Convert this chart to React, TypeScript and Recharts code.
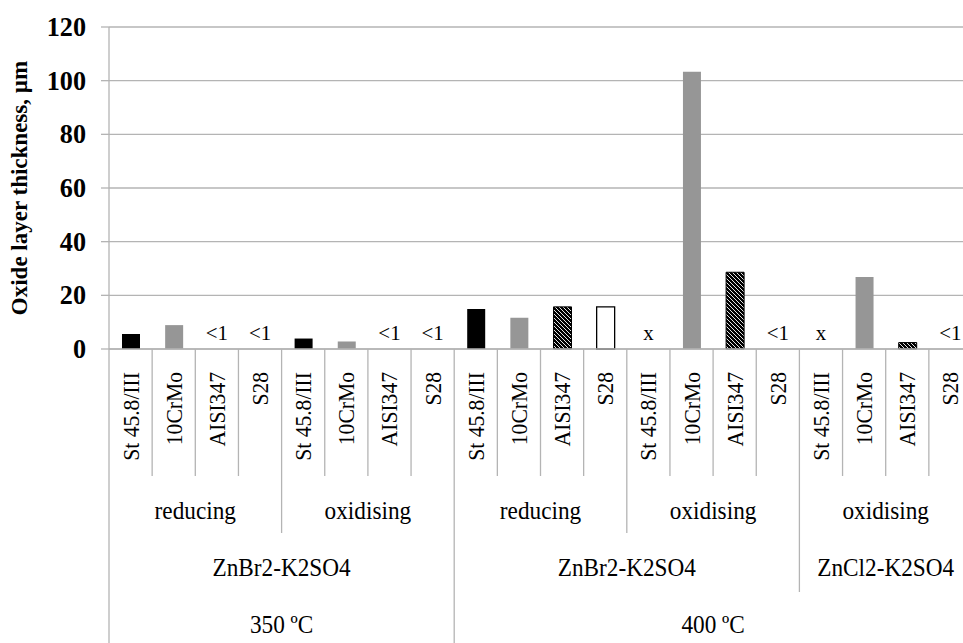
import { ComposedChart, Bar, Scatter, XAxis, YAxis, CartesianGrid, Cell } from "recharts";

// alloys tested in every exposure group
const alloys = ["St 45.8/III", "10CrMo", "AISI347", "S28"];
const conditions = ["reducing", "oxidising", "reducing", "oxidising", "oxidising"];
const conditionSpans = [4, 4, 4, 4, 4];
const salts = ["ZnBr2-K2SO4", "ZnBr2-K2SO4", "ZnCl2-K2SO4"];
const saltSpans = [8, 8, 4];
const temperatures = ["350 ºC", "400 ºC"];
const temperatureSpans = [8, 12];

// oxide layer thickness in µm (null = not tested)
const thickness = [
  5.6, 8.9, 0, 0,
  3.9, 2.8, 0, 0,
  14.9, 11.6, 15.7, 15.7,
  null, 103.3, 28.6, 0,
  null, 26.8, 2.4, 0,
];
const notes = [
  "", "", "<1", "<1",
  "", "", "<1", "<1",
  "", "", "", "",
  "x", "", "", "<1",
  "x", "", "", "<1",
];
const yTicks = [0, 20, 40, 60, 80, 100, 120];

const data = thickness.map((v, i) => ({
  id: i,
  alloy: alloys[i % alloys.length],
  thickness: v,
  note: notes[i],
  // notes sit on the zero line
  noteAt: notes[i] ? 0 : null,
}));

const W = 972;
const H = 643;
const TOP = 27;
const Y_W = 109;
const X_H = 294;
const PLOT_BOTTOM = H - X_H;
const STEP = (W - Y_W) / data.length;
const FONT = "'Liberation Serif', 'Times New Roman', serif";
const GRID = "#b4b4b4";

// where each tier's separators stop
const tierBottom = [476, 533, 592, H];

const starts = (spans: number[]) => {
  const out: number[] = [];
  let s = 0;
  spans.forEach((n) => {
    out.push(s);
    s += n;
  });
  out.push(s);
  return out;
};
const condStarts = starts(conditionSpans);
const saltStarts = starts(saltSpans);
const tempStarts = starts(temperatureSpans);

const boundaryDepth = (b: number) => {
  if (tempStarts.includes(b)) return tierBottom[3];
  if (saltStarts.includes(b)) return tierBottom[2];
  if (condStarts.includes(b)) return tierBottom[1];
  return tierBottom[0];
};

// Times-like text, slightly narrowed along its own direction
const NarrowText = ({ x, y, rotate = 0, size, squeeze = 0.93, anchor = "middle", bold = false, children }: any) => (
  <text
    transform={`translate(${x},${y}) rotate(${rotate}) scale(${squeeze},1)`}
    textAnchor={anchor}
    fontFamily={FONT}
    fontSize={size}
    fontWeight={bold ? "bold" : "normal"}
    fill="#000"
  >
    {children}
  </text>
);

const groupLabel = (
  names: string[],
  spans: number[],
  first: number[],
  i: number,
  left: number,
  y: number
) => {
  const g = first.indexOf(i);
  if (g < 0 || g >= names.length) return null;
  return (
    <NarrowText x={left + (spans[g] * STEP) / 2} y={y} size={24.5} squeeze={0.95}>
      {names[g]}
    </NarrowText>
  );
};

const CategoryTick = (props: any) => {
  const { x, payload } = props;
  const i = Number(payload.value);
  const left = x - STEP / 2;
  const right = x + STEP / 2;
  return (
    <g>
      <line x1={left} y1={PLOT_BOTTOM} x2={left} y2={boundaryDepth(i)} stroke={GRID} strokeWidth={1.3} />
      {i === data.length - 1 && (
        <line x1={right} y1={PLOT_BOTTOM} x2={right} y2={boundaryDepth(i + 1)} stroke={GRID} strokeWidth={1.3} />
      )}
      <NarrowText x={x + 8} y={372} rotate={-90} size={24} squeeze={0.9} anchor="end">
        {alloys[i % alloys.length]}
      </NarrowText>
      {groupLabel(conditions, conditionSpans, condStarts, i, left, 519)}
      {groupLabel(salts, saltSpans, saltStarts, i, left, 576)}
      {groupLabel(temperatures, temperatureSpans, tempStarts, i, left, 633)}
    </g>
  );
};

const ValueTick = (props: any) => {
  const { x, y, payload } = props;
  return (
    <NarrowText x={x} y={y + 9} size={27} squeeze={0.97} anchor="end" bold>
      {payload.value}
    </NarrowText>
  );
};

const NoteMark = (props: any) => {
  const { cx, cy, payload } = props;
  if (!payload || !payload.note || !Number.isFinite(cy)) return null;
  return (
    <NarrowText x={cx} y={cy - 9} size={22} squeeze={0.95}>
      {payload.note}
    </NarrowText>
  );
};

const barStyle = (i: number) => {
  switch (i % 4) {
    case 0:
      return { fill: "#000000" };
    case 1:
      return { fill: "#969696" };
    case 2:
      return { fill: "url(#hatch)", stroke: "#000", strokeWidth: 1 };
    default:
      return { fill: "#ffffff", stroke: "#000", strokeWidth: 1.3 };
  }
};

export default function App() {
  return (
    <div
      style={{
        position: "fixed",
        left: 0,
        top: 0,
        width: 963,
        height: 643,
        overflow: "hidden",
        background: "#fff",
      }}
    >
      <ComposedChart
        width={W}
        height={H}
        data={data}
        margin={{ top: TOP, right: 0, bottom: 0, left: 0 }}
        barSize={18}
      >
        <defs>
          <pattern id="hatch" patternUnits="userSpaceOnUse" width={4} height={4}>
            <rect width={4} height={4} fill="#000" />
            <path d="M-1,-1 L5,5 M-1,3 L1,5 M3,-1 L5,1" stroke="#fff" strokeWidth={0.9} />
          </pattern>
        </defs>
        <CartesianGrid vertical={false} stroke={GRID} strokeWidth={1.3} />
        <XAxis
          dataKey="id"
          height={X_H}
          interval={0}
          tickLine={false}
          axisLine={{ stroke: GRID, strokeWidth: 1.3 }}
          tick={<CategoryTick />}
        />
        <YAxis
          width={Y_W}
          domain={[0, 120]}
          ticks={yTicks}
          interval={0}
          tickSize={8}
          tickMargin={15}
          axisLine={{ stroke: GRID, strokeWidth: 1.3 }}
          tickLine={{ stroke: GRID, strokeWidth: 1.3 }}
          tick={<ValueTick />}
        />
        <NarrowText x={27} y={(TOP + PLOT_BOTTOM) / 2} rotate={-90} size={23} squeeze={1} bold>
          Oxide layer thickness, µm
        </NarrowText>
        <Bar dataKey="thickness" isAnimationActive={false}>
          {data.map((_, i) => (
            <Cell key={i} {...barStyle(i)} />
          ))}
        </Bar>
        <Scatter dataKey="noteAt" isAnimationActive={false} shape={<NoteMark />} legendType="none" />
      </ComposedChart>
    </div>
  );
}
